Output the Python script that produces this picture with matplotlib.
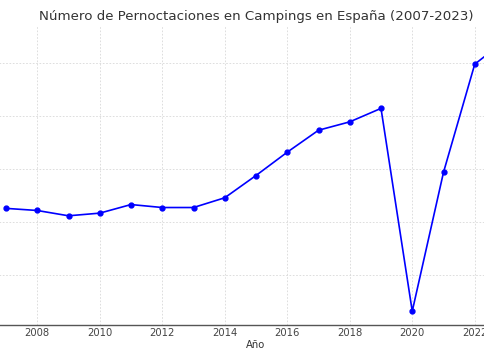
import matplotlib
matplotlib.use('Agg')
import matplotlib.pyplot as plt

# Pernoctaciones en campings (millones)
anios = [2007, 2008, 2009, 2010, 2011, 2012, 2013, 2014, 2015,
         2016, 2017, 2018, 2019, 2020, 2021, 2022, 2023]
pernoctaciones = [31.3, 31.1, 30.6, 30.85, 31.66, 31.38, 31.38, 32.3, 34.4,
                  36.6, 38.67, 39.46, 40.73, 21.6, 34.7, 44.9, 47.2]
xticks = [2008, 2010, 2012, 2014, 2016, 2018, 2020, 2022]
yticks = [20, 25, 30, 35, 40, 45, 50]

fig = plt.figure(figsize=(4.85, 3.6), dpi=100)
# el gráfico original está recortado por los lados
ax = fig.add_axes([-19 / 485, 35 / 360, 550 / 485, 299 / 360])

ax.plot(anios, pernoctaciones, color='blue', marker='o', markersize=3.5, linewidth=1.2)

ax.set_title('Número de Pernoctaciones en Campings en España (2007-2023)',
             fontsize=9.6, color='#333333', pad=4)
ax.set_xlabel('Año', fontsize=7.2, color='#333333', labelpad=1.5)
ax.set_xticks(xticks)
ax.set_yticks(yticks)
ax.set_ylim(20.3, 48.5)
ax.tick_params(axis='x', labelsize=7.2, colors='#444444', length=0, pad=2)
ax.tick_params(axis='y', length=0, labelleft=False)
ax.grid(True, linestyle=(0, (2, 2)), color='#d8d8d8', linewidth=0.6)
ax.set_axisbelow(True)

for s in ['top', 'left', 'right']:
    ax.spines[s].set_visible(False)
ax.spines['bottom'].set_color('#555555')
ax.spines['bottom'].set_linewidth(1.0)

fig.savefig('out.png', dpi=100)
